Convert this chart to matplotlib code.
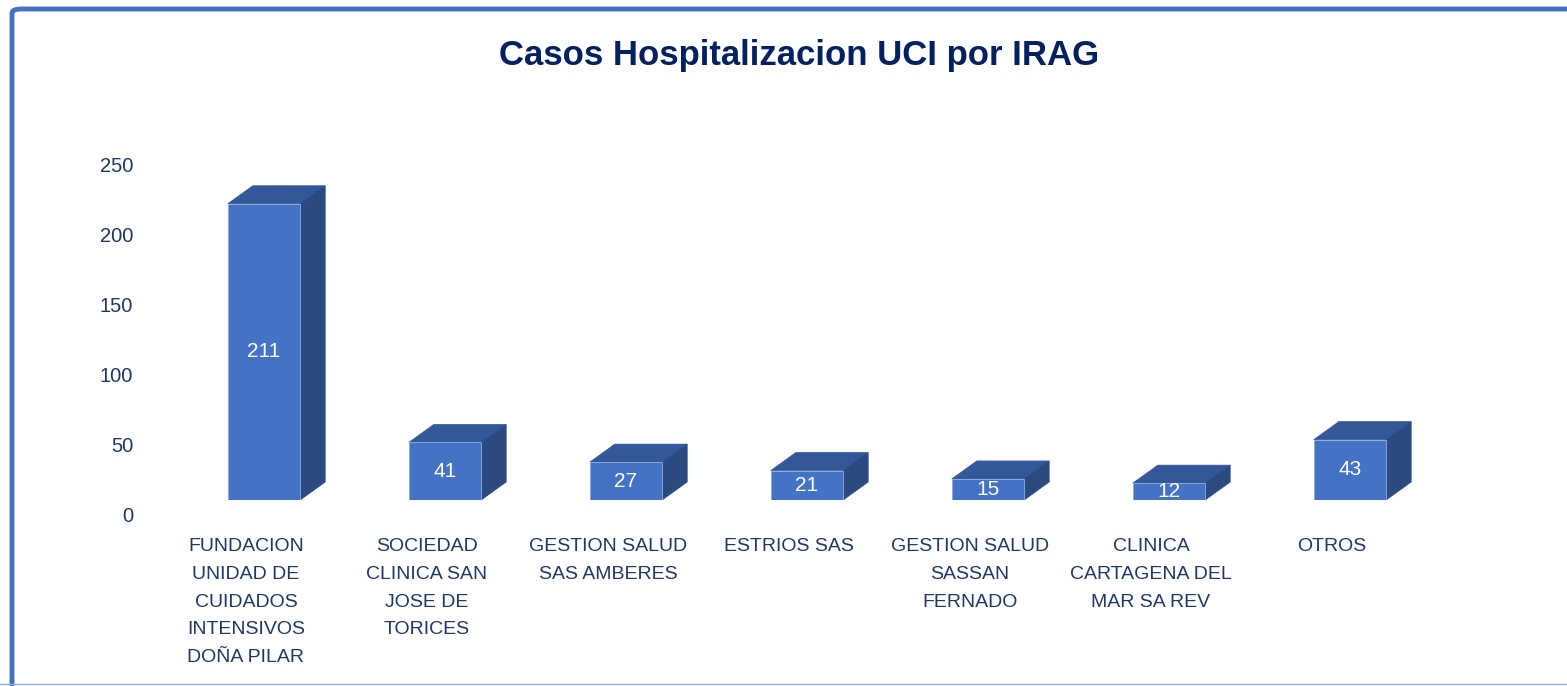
import matplotlib
matplotlib.use("Agg")
import matplotlib.pyplot as plt
from matplotlib.patches import Polygon, FancyBboxPatch
from matplotlib.transforms import ScaledTranslation

# data
categories = ["FUNDACION\nUNIDAD DE\nCUIDADOS\nINTENSIVOS\nDOÑA PILAR",
              "SOCIEDAD\nCLINICA SAN\nJOSE DE\nTORICES",
              "GESTION SALUD\nSAS AMBERES",
              "ESTRIOS SAS",
              "GESTION SALUD\nSASSAN\nFERNADO",
              "CLINICA\nCARTAGENA DEL\nMAR SA REV",
              "OTROS"]
casos = [211, 41, 27, 21, 15, 12, 43]
yticks = [0, 50, 100, 150, 200, 250]

plt.rcParams['font.family'] = ['Liberation Sans', 'DejaVu Sans']

W, H = 1567, 686
fig = plt.figure(figsize=(W / 100, H / 100), dpi=100)

# axes placed so that value 0 sits on the bar fronts' base line
x0, x1 = 173.5, 1440.5
ybase, ytop = 500, 149
ax = fig.add_axes([x0 / W, (H - ybase) / H, (x1 - x0) / W, (ybase - ytop) / H])
ax.set_xlim(-0.5, 6.5)
ax.set_ylim(0, 250)

front = '#4472C4'
top = '#33589A'
side = '#2B4A80'
navy = '#1F3864'

bw = 0.40
dx = 25 / 181.0
dy = 18 / 1.404
xs = list(range(len(casos)))

ax.bar(xs, casos, width=bw, color=front, edgecolor='#8FAADC', linewidth=0.6, zorder=3)
for x, v in zip(xs, casos):
    l, r = x - bw / 2, x + bw / 2
    ax.add_patch(Polygon([(l, v), (r, v), (r + dx, v + dy), (l + dx, v + dy)],
                         closed=True, facecolor=top, edgecolor=top, lw=0.5, zorder=2, clip_on=False))
    ax.add_patch(Polygon([(r, 0), (r + dx, dy), (r + dx, v + dy), (r, v)],
                         closed=True, facecolor=side, edgecolor=side, lw=0.5, zorder=2, clip_on=False))
    ax.text(x, v / 2, str(v), color='white', fontsize=15, ha='center', va='center', zorder=4)

for s in ax.spines.values():
    s.set_visible(False)

ax.set_yticks(yticks)
ax.set_yticklabels([str(t) for t in yticks], fontsize=14.5, color=navy)
ax.tick_params(axis='y', length=0, pad=29)
off = ScaledTranslation(0, -15 / 100, fig.dpi_scale_trans)
for lab in ax.get_yticklabels():
    lab.set_transform(lab.get_transform() + off)

ax.set_xticks([x - 0.1 for x in xs])
ax.set_xticklabels(categories, fontsize=14, color=navy, linespacing=1.82)
ax.tick_params(axis='x', length=0, pad=27.5)

fig.text(799 / W, 1 - 55 / H, "Casos Hospitalizacion UCI por IRAG", ha='center', va='center',
         fontsize=25, fontweight='bold', color='#002060')

# chart frame
frame = FancyBboxPatch((12 / W, -0.05), 1.2, (H - 9) / H + 0.05,
                       boxstyle="round,pad=0,rounding_size=0.006",
                       transform=fig.transFigure, fill=False, edgecolor='#4472C4', lw=3.5)
fig.patches.append(frame)
fig.add_artist(plt.Line2D([0, 1], [1 - 684 / H] * 2, color='#8FAADC', lw=1, transform=fig.transFigure))

fig.savefig("out.png", dpi=100)
